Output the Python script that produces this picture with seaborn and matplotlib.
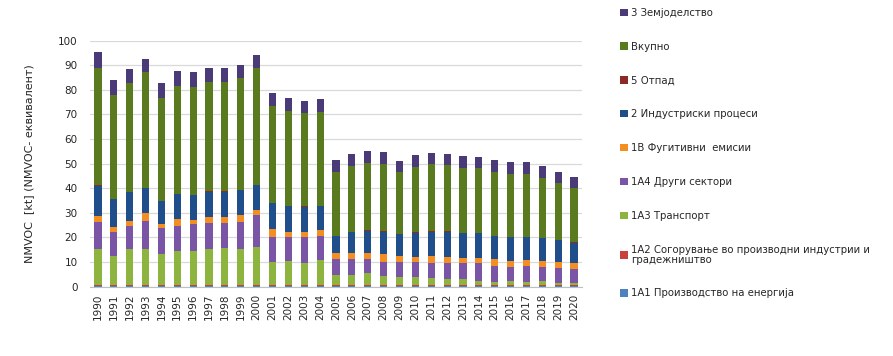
import pandas as pd
import matplotlib
matplotlib.use("Agg")
import matplotlib.pyplot as plt
from matplotlib.patches import Patch
import seaborn as sns

# години
years = ["1990", "1991", "1992", "1993", "1994", "1995", "1996", "1997", "1998", "1999",
         "2000", "2001", "2002", "2003", "2004", "2005", "2006", "2007", "2008", "2009",
         "2010", "2011", "2012", "2013", "2014", "2015", "2016", "2017", "2018", "2019", "2020"]

# вредности по сектори [kt], читани од графиконот
s_1a1 = [0.1] * 31
s_1a2 = [0.5, 0.5, 0.5, 0.5, 0.5, 0.5, 0.5, 0.5, 0.5, 0.5,
         0.5, 0.5, 0.5, 0.5, 0.5, 0.7, 0.5, 0.5, 0.5, 0.5,
         0.5, 0.5, 0.5, 0.5, 0.5, 0.5, 0.5, 0.5, 0.5, 0.5, 0.5]
s_1a3 = [14.7, 12.0, 14.6, 14.7, 12.5, 14.0, 14.0, 14.6, 15.3, 14.7,
         15.7, 9.6, 10.0, 8.9, 10.2, 3.9, 4.1, 4.8, 3.7, 3.5,
         3.5, 3.1, 2.4, 2.4, 1.7, 1.4, 1.7, 1.4, 1.7, 1.0, 0.8]
s_1a4 = [10.9, 9.5, 9.6, 11.5, 10.6, 10.1, 10.7, 10.8, 9.8, 11.1,
         12.8, 9.9, 9.7, 10.6, 9.9, 6.4, 6.4, 5.7, 5.9, 6.1,
         5.8, 6.1, 6.5, 6.5, 7.2, 6.5, 5.8, 6.4, 5.6, 5.9, 5.8]
s_1b = [2.7, 2.3, 2.0, 3.0, 1.6, 2.8, 1.8, 2.5, 2.8, 2.7,
        2.1, 3.3, 2.1, 2.3, 2.3, 2.5, 2.5, 2.5, 2.9, 2.4,
        2.3, 2.8, 2.7, 2.3, 2.3, 2.6, 2.5, 2.4, 2.7, 2.7, 2.3]
s_2 = [12.2, 11.2, 11.5, 10.4, 9.5, 10.2, 10.2, 10.1, 10.1, 10.2,
       10.1, 10.5, 10.5, 10.1, 9.9, 7.0, 8.5, 9.2, 9.3, 8.7,
       9.8, 9.8, 10.2, 9.9, 9.9, 9.6, 9.7, 9.5, 9.0, 8.8, 8.4]
s_5 = [0.1] * 31
s_vk = [47.8, 42.2, 44.3, 46.8, 41.9, 43.9, 43.6, 44.6, 44.6, 45.3,
        47.6, 39.4, 38.5, 38.1, 38.1, 25.8, 27.0, 27.5, 27.4, 25.1,
        26.7, 27.4, 27.0, 26.6, 26.6, 25.7, 25.4, 25.4, 24.6, 23.2, 22.0]
s_3 = [6.3, 6.1, 5.8, 5.4, 6.1, 6.0, 6.1, 5.5, 5.5, 5.4,
       5.2, 5.2, 5.1, 4.8, 5.1, 5.0, 4.6, 4.7, 4.7, 4.6,
       4.7, 4.6, 4.4, 4.7, 4.4, 5.0, 5.0, 5.0, 4.9, 4.4, 4.7]

labels = ["1А1 Производство на енергија",
          "1А2 Согорување во производни индустрии и\nградежништво",
          "1А3 Транспорт",
          "1А4 Други сектори",
          "1В Фугитивни  емисии",
          "2 Индустриски процеси",
          "5 Отпад",
          "Вкупно",
          "3 Земјоделство"]
colors = ["#4F81BD", "#C9413C", "#8DB43E", "#7A55A6", "#F28E22",
          "#1F4E8A", "#8B2A28", "#5A7A1F", "#4A3A78"]

df = pd.DataFrame({lab: vals for lab, vals in zip(
    labels, [s_1a1, s_1a2, s_1a3, s_1a4, s_1b, s_2, s_5, s_vk, s_3])})
cum = df[labels].cumsum(axis=1)
cum["year"] = years

sns.set_style("white")
plt.rcParams["font.family"] = ["DejaVu Sans"]

fig, ax = plt.subplots(figsize=(8.93, 3.56), dpi=100)
fig.subplots_adjust(left=0.1008, right=0.6517, bottom=0.1947, top=0.8857)

# нацртај кумулативни столбови од врвот надолу
for lab, col in zip(reversed(labels), reversed(colors)):
    sns.barplot(data=cum, x="year", y=lab, color=col, saturation=1,
                width=0.45, ax=ax, zorder=2, linewidth=0)

ax.set_ylim(0, 100)
ax.set_yticks(range(0, 101, 10))
ax.yaxis.grid(True, color="#D9D9D9", linewidth=0.9, zorder=0)
ax.set_axisbelow(True)
for side in ["top", "right", "left"]:
    ax.spines[side].set_visible(False)
ax.spines["bottom"].set_color("#BFBFBF")
ax.set_xlabel("")
ax.set_ylabel("NMVOC  [kt] (NMVOC- еквивалент)", fontsize=8, labelpad=17)
ax.tick_params(axis="y", length=0, pad=9, labelsize=7.5)
ax.tick_params(axis="x", length=0, pad=5, labelsize=7.5, rotation=90)

handles = [Patch(facecolor=c, edgecolor="none") for c in colors]
leg = fig.legend(handles[::-1], labels[::-1], loc="upper left",
                 bbox_to_anchor=(620 / 893, 0.978), frameon=False, fontsize=7.3,
                 borderpad=0, borderaxespad=0, labelspacing=2.35,
                 handlelength=0.75, handleheight=0.75, handletextpad=0.35)
for t in leg.get_texts():
    t.set_linespacing(1.0)

plt.savefig("out.png", dpi=100)
